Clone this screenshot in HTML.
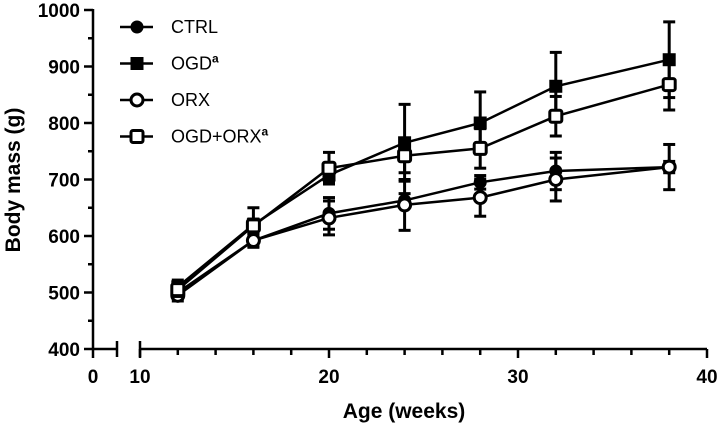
<!DOCTYPE html>
<html><head><meta charset="utf-8"><style>
body{margin:0;background:#fff}
svg{display:block;font-family:"Liberation Sans",Arial,sans-serif}
</style></head><body>
<svg id="c" width="719" height="429" viewBox="0 0 719 429"></svg>
<script>
const weeks=[12,16,20,24,28,32,38];
const ctrl=[500,592,640,663,695,715,722];
const ctrlErr=[10,10,28,12,12,33,40];
const ogd=[510,620,708,765,800,865,912];
const ogdErr=[12,30,12,68,55,60,67];
const orx=[495,592,632,655,668,700,722];
const orxErr=[10,12,30,45,33,38,10];
const ogdOrx=[505,618,720,742,755,812,868];
const ogdOrxErr=[12,12,28,30,35,35,45];
const yTicks=[400,500,600,700,800,900,1000];
const xTicks=[0,10,20,30,40];
const seriesNames=["CTRL","OGD","ORX","OGD+ORX"];

const NS="http://www.w3.org/2000/svg";
const svg=document.getElementById('c');
function el(t,a,p){const e=document.createElementNS(NS,t);for(const k in a)e.setAttribute(k,a[k]);(p||svg).appendChild(e);return e;}
const Y=v=>349-(v-400)*0.565;
const X=w=>w<=5?93+w*4.8:140+(w-10)*18.9;

const ax=el('g',{stroke:'#000','stroke-width':2.5,fill:'none'});


el('line',{x1:93,y1:9,x2:93,y2:350},ax);
el('line',{x1:92,y1:349,x2:117,y2:349},ax);
el('line',{x1:117,y1:341,x2:117,y2:357},ax);
el('line',{x1:140,y1:341,x2:140,y2:357},ax);
el('line',{x1:140,y1:349,x2:707,y2:349},ax);
for(let v=400;v<=1000;v+=50){const maj=v%100===0;el('line',{x1:maj?84:88,y1:Y(v),x2:93,y2:Y(v)},ax);}
for(let w=10;w<=40;w+=2){el('line',{x1:X(w),y1:349,x2:X(w),y2:w%10===0?358:355},ax);}
el('line',{x1:93,y1:349,x2:93,y2:358},ax);
yTicks.forEach(v=>{const t=el('text',{x:80,y:Y(v)+7,'text-anchor':'end','font-size':19,'font-weight':'bold'});t.textContent=v;
});
xTicks.forEach(w=>{const t=el('text',{x:X(w),y:383,'text-anchor':'middle','font-size':19,'font-weight':'bold'});t.textContent=w;
});
const yt=el('text',{x:0,y:0,transform:'translate(20,180) rotate(-90)','text-anchor':'middle','font-size':21,'font-weight':'bold'});yt.textContent='Body mass (g)';

const xt=el('text',{x:404,y:418,'text-anchor':'middle','font-size':21,'font-weight':'bold'});xt.textContent='Age (weeks)';


function marker(g,type,x,y){
  if(type==='fc')el('circle',{cx:x,cy:y,r:6.5,fill:'#000'},g);
  if(type==='fs')el('rect',{x:x-6.5,y:y-6.5,width:13,height:13,fill:'#000'},g);
  if(type==='oc')el('circle',{cx:x,cy:y,r:6,fill:'#fff',stroke:'#000','stroke-width':3},g);
  if(type==='os')el('rect',{x:x-6,y:y-6,width:12,height:12,rx:2,fill:'#fff',stroke:'#000','stroke-width':3},g);
}
function series(vals,errs,type,name){
  const g=el('g',{});
  
  
  weeks.forEach((w,i)=>{const x=X(w);
    el('line',{x1:x,y1:Y(vals[i]+errs[i]),x2:x,y2:Y(vals[i]-errs[i]),stroke:'#000','stroke-width':3},g);
    el('line',{x1:x-6,y1:Y(vals[i]+errs[i]),x2:x+6,y2:Y(vals[i]+errs[i]),stroke:'#000','stroke-width':3},g);
    el('line',{x1:x-6,y1:Y(vals[i]-errs[i]),x2:x+6,y2:Y(vals[i]-errs[i]),stroke:'#000','stroke-width':3},g);});
  el('polyline',{points:weeks.map((w,i)=>X(w)+','+Y(vals[i])).join(' '),fill:'none',stroke:'#000','stroke-width':2.5},g);
  weeks.forEach((w,i)=>marker(g,type,X(w),Y(vals[i])));
}
series(ctrl,ctrlErr,'fc','series-ctrl');
series(ogd,ogdErr,'fs','series-ogd');
series(orx,orxErr,'oc','series-orx');
series(ogdOrx,ogdOrxErr,'os','series-ogd-orx');

const types=['fc','fs','oc','os'];const sup=[false,true,false,true];
seriesNames.forEach((n,i)=>{const y=27+i*36.5;const g=el('g',{});
  
  
  el('line',{x1:120,y1:y,x2:153,y2:y,stroke:'#000','stroke-width':2.5},g);
  marker(g,types[i],137,y);
  const t=el('text',{x:171,y:y+6,'font-size':18},g);t.textContent=n;
  if(sup[i]){const s=el('tspan',{dy:-7,'font-size':12,'font-weight':'bold'},t);s.textContent='a';}
});
</script>
</body></html>
